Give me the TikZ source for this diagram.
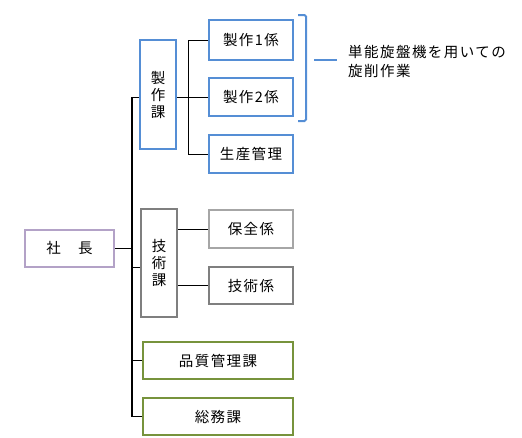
\documentclass[tikz,border=0pt]{standalone}
\usepackage{fontspec}
\setmainfont{Noto Sans CJK JP}[LetterSpace=10]
\usetikzlibrary{calc}

\definecolor{bluebox}{RGB}{85,142,213}
\definecolor{graylite}{RGB}{166,166,166}
\definecolor{graydark}{RGB}{127,127,127}
\definecolor{purplebox}{RGB}{179,162,199}
\definecolor{greenbox}{RGB}{119,147,60}

\tikzset{
	unit/.style={draw, line width=2pt, fill=white, font=\fontsize{14.5}{17}\selectfont, inner sep=0pt, align=center},
	link/.style={line width=1pt},
}

\begin{document}
\begin{tikzpicture}[x=1pt, y=-1pt]
		\useasboundingbox (0,0) rectangle (522,437);
		% boxes
		\node[unit, draw=purplebox, minimum width=89, minimum height=37] (shacho) at (69.5,248.5) {社　長};
		\node[unit, draw=bluebox, minimum width=36, minimum height=109] (seisaku) at (158,94.5) {製\\作\\課};
		\node[unit, draw=bluebox, minimum width=84, minimum height=40] (kakari1) at (251,40) {製作1係};
		\node[unit, draw=bluebox, minimum width=84, minimum height=38] (kakari2) at (251,97) {製作2係};
		\node[unit, draw=bluebox, minimum width=84, minimum height=38] (seisan) at (251,154) {生産管理};
		\node[unit, draw=graydark, minimum width=36, minimum height=108] (gijutsu) at (159,263) {技\\術\\課};
		\node[unit, draw=graylite, minimum width=84, minimum height=38] (hozen) at (251,229) {保全係};
		\node[unit, draw=graydark, minimum width=84, minimum height=37] (gkakari) at (251,285.5) {技術係};
		\node[unit, draw=greenbox, minimum width=150, minimum height=37] (hinshitsu) at (218,360.5) {品質管理課};
		\node[unit, draw=greenbox, minimum width=150, minimum height=37] (somu) at (218,416.5) {総務課};
		% trunk
		\coordinate (top) at (132,97);
		\coordinate (bot) at (132,417);
		\draw[line width=2.5pt] (top) -- (bot);
		\draw[link] (shacho.east) -- (shacho.east -| top);
		\draw[link] (top) -- (seisaku.west |- top);
		\draw[link] ([yshift=-4pt]gijutsu.west) -- ([yshift=-4pt]gijutsu.west -| top);
		\draw[link] (hinshitsu.west) -- (hinshitsu.west -| top);
		\draw[link] (somu.west) -- (somu.west -| top);
		% sub branches
		\draw[link] (kakari1.west) -- ++(-20,0) |- (seisan.west);
		\draw[link] (seisaku.east |- kakari2) -- (kakari2.west);
		\draw[link] (gijutsu.east |- hozen) -- (hozen.west);
		\draw[link] (gijutsu.east |- gkakari) -- (gkakari.west);
		% bracket and note
		\draw[bluebox, line width=2pt, rounded corners=1.5pt] (298,15) -- (306,15) -- (306,121) -- (298,121);
		\node[anchor=west, align=left, inner sep=0pt, font=\fontsize{14.5}{19}\selectfont] (note) at (348,61) {単能旋盤機を用いての\\旋削作業};
		\coordinate (brk) at (314,60);
		\draw[bluebox, line width=2pt] (brk) -- ([xshift=-11pt]note.west |- brk);
	\end{tikzpicture}
\end{document}
